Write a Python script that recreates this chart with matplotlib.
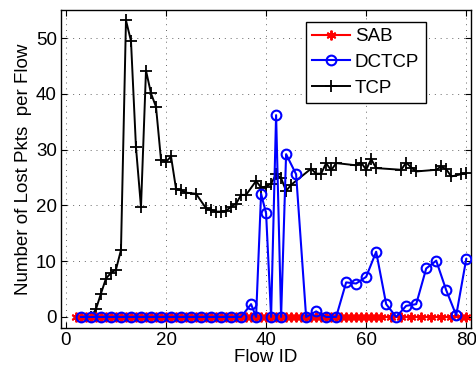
import matplotlib
matplotlib.use('Agg')
import matplotlib.pyplot as plt

plt.rcParams['font.family'] = ['Liberation Sans', 'DejaVu Sans']

# SAB: zero losses for every flow
sab_ids = list(range(2, 63)) + list(range(63, 80, 2)) + [80]
sab_loss = [0] * len(sab_ids)

# DCTCP
dctcp_ids = list(range(3, 37, 2)) + [37, 38, 39, 40, 41, 42, 43, 44, 46, 48, 50, 52, 54,
                                     56, 58, 60, 62, 64, 66, 68, 70, 72, 74, 76, 78, 80]
dctcp_loss = [0] * 17 + [2.3, 0, 22.1, 18.6, 0, 36.2, 0, 29.2, 25.6, 0, 1.0, 0, 0,
                         6.2, 6.0, 7.2, 11.7, 2.3, 0, 2.0, 2.3, 8.7, 10.1, 4.8, 0.3, 10.4]

# TCP
tcp_ids = [5, 6, 7, 8, 9, 10, 11, 12, 13, 14, 15, 16, 17, 18, 19, 20, 21, 22, 23, 24,
           26, 28, 29, 30, 31, 32, 33, 34, 35, 36, 38, 39, 40, 41, 42, 43, 44, 45,
           49, 50, 51, 52, 53, 54, 58, 59, 60, 61, 62, 67, 68, 69, 70, 74, 75, 76, 77,
           79, 80]
tcp_loss = [0, 1.4, 4.2, 6.9, 7.9, 8.5, 12.0, 53.2, 49.5, 30.4, 19.7, 44.2, 40.1, 37.7,
            28.2, 27.8, 28.8, 23.0, 22.7, 22.3,
            22.1, 19.5, 19.2, 18.9, 18.9, 19.0, 19.8, 20.3, 21.9, 21.9,
            24.4, 23.2, 23.4, 23.9, 25.6, 24.9, 22.6, 23.7,
            26.6, 25.7, 25.7, 27.6, 26.3, 27.6, 27.2, 27.7, 26.4, 28.3, 26.7,
            26.4, 27.7, 26.8, 26.1, 26.4, 27.0, 26.5, 25.2, 25.6, 25.8]

x_ticks = [0, 20, 40, 60, 80]
y_ticks = [0, 10, 20, 30, 40, 50]

fig = plt.figure(figsize=(4.76, 3.75), dpi=100)
ax = fig.add_axes([0.128, 0.125, 0.862, 0.8475])

ax.plot(sab_ids, sab_loss, color='red', linewidth=1.5, marker=(6, 2, 0),
        markersize=7, markeredgewidth=1.4, label='SAB', zorder=3)
ax.plot(dctcp_ids, dctcp_loss, color='blue', linewidth=1.5, marker='o',
        markersize=7, markerfacecolor='none', markeredgewidth=1.5, label='DCTCP', zorder=4)
ax.plot(tcp_ids, tcp_loss, color='black', linewidth=1.4, marker='+',
        markersize=9, markeredgewidth=1.3, label='TCP', zorder=2)

ax.set_xlim(-1, 81)
ax.set_ylim(-2, 55)
ax.set_xticks(x_ticks)
ax.set_yticks(y_ticks)
ax.tick_params(direction='in', top=True, right=True, length=4, labelsize=13.5, pad=3)
ax.grid(True, linestyle=(0, (1, 5)), color='#666666', linewidth=0.7)
for s in ax.spines.values():
    s.set_linewidth(1.0)

ax.set_xlabel('Flow ID', fontsize=13.5, labelpad=0)
ax.set_ylabel('Number of Lost Pkts  per Flow', fontsize=13.5, labelpad=3)

leg = ax.legend(loc='upper left', bbox_to_anchor=(0.597, 0.964), borderaxespad=0,
                fontsize=13.5, handlelength=2.0, handletextpad=0.25, labelspacing=0.45,
                fancybox=False, framealpha=1, edgecolor='black', borderpad=0.35)
leg.get_frame().set_linewidth(1.0)

fig.savefig('out.png', dpi=100)
